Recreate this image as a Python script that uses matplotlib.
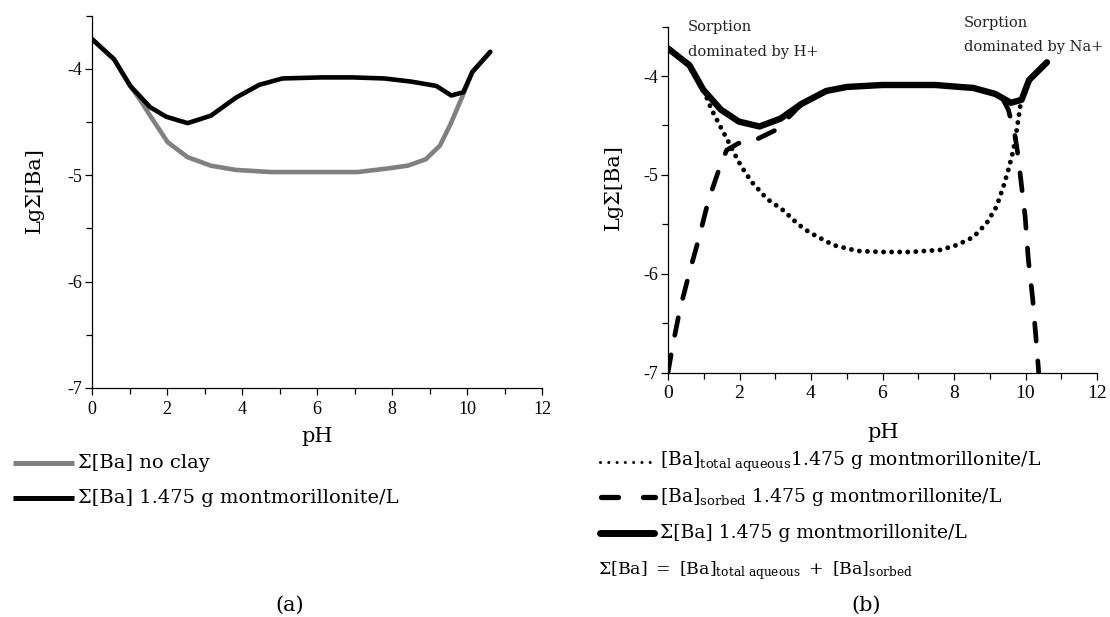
import matplotlib
matplotlib.use('Agg')
import matplotlib.pyplot as plt
from matplotlib.lines import Line2D
from matplotlib.ticker import MultipleLocator

plt.rcParams['axes.unicode_minus'] = False
plt.rcParams['mathtext.fontset'] = 'custom'
plt.rcParams['mathtext.rm'] = 'DejaVu Serif'
plt.rcParams['mathtext.it'] = 'DejaVu Serif'

# ---------------- data (a) ----------------
ph_a_clay = [0, 0.59, 1.02, 1.55, 1.98, 2.55, 3.17, 3.84, 4.46, 5.08, 6.13, 6.94,
             7.8, 8.52, 9.18, 9.58, 9.9, 10.14, 10.62]
lg_a_clay = [-3.72, -3.91, -4.16, -4.36, -4.45, -4.51, -4.44, -4.27, -4.15, -4.09,
             -4.08, -4.08, -4.09, -4.12, -4.16, -4.25, -4.22, -4.03, -3.84]

ph_a_noclay = [0, 0.59, 1.02, 1.3, 1.55, 2.02, 2.55, 3.17, 3.84, 4.79, 5.92, 7.08,
               7.8, 8.42, 8.9, 9.28, 9.56, 9.9, 10.14, 10.62]
lg_a_noclay = [-3.72, -3.91, -4.16, -4.30, -4.44, -4.69, -4.83, -4.91, -4.95, -4.97,
               -4.97, -4.97, -4.94, -4.91, -4.85, -4.72, -4.52, -4.24, -4.03, -3.84]

# ---------------- data (b) ----------------
ph_b_sum = [0, 0.6, 0.99, 1.48, 1.98, 2.56, 3.15, 3.74, 4.43, 5.0, 6.0, 7.48, 8.17,
            8.54, 9.15, 9.59, 9.89, 10.1, 10.6]
lg_b_sum = [-3.72, -3.89, -4.14, -4.34, -4.46, -4.51, -4.43, -4.28, -4.15, -4.11,
            -4.09, -4.09, -4.11, -4.12, -4.18, -4.27, -4.24, -4.04, -3.86]

ph_b_aq = [0, 0.6, 0.99, 1.22, 1.45, 1.64, 1.85, 2.06, 2.34, 2.76, 3.23, 3.64, 3.95,
           4.62, 5.3, 6.0, 6.78, 7.61, 8.08, 8.54, 8.91, 9.19, 9.38, 9.52, 9.66, 9.77,
           9.85, 9.89, 10.1, 10.6]
lg_b_aq = [-3.72, -3.89, -4.14, -4.34, -4.50, -4.63, -4.78, -4.92, -5.07, -5.24,
           -5.36, -5.50, -5.58, -5.71, -5.77, -5.78, -5.78, -5.76, -5.71, -5.63,
           -5.49, -5.32, -5.12, -4.95, -4.75, -4.51, -4.31, -4.24, -4.04, -3.86]

ph_b_sorb = [0, 0.13, 0.34, 0.62, 0.85, 1.13, 1.45, 1.64, 1.97, 2.48, 2.99, 3.34,
             3.74, 4.43, 5.0, 6.0, 7.48, 8.17, 8.54, 9.15, 9.35, 9.52, 9.71, 9.77,
             9.87, 9.99, 10.08, 10.2, 10.29, 10.37]
lg_b_sorb = [-7.0, -6.73, -6.35, -5.96, -5.66, -5.26, -4.92, -4.75, -4.68, -4.64,
             -4.55, -4.43, -4.28, -4.15, -4.11, -4.09, -4.09, -4.11, -4.12, -4.18,
             -4.22, -4.34, -4.61, -4.75, -5.05, -5.42, -5.86, -6.25, -6.64, -7.0]

x_ticks = [0, 2, 4, 6, 8, 10, 12]
y_ticks = [-7, -6, -5, -4]

label_a = ['Σ[Ba] no clay', 'Σ[Ba] 1.475 g montmorillonite/L']
label_b = [r'$\mathrm{[Ba]_{total\ aqueous}}$1.475 g montmorillonite/L',
           r'$\mathrm{[Ba]_{sorbed}}$ 1.475 g montmorillonite/L',
           'Σ[Ba] 1.475 g montmorillonite/L']
formula_b = r'$\mathrm{\Sigma[Ba]\ =\ [Ba]_{total\ aqueous}\ +\ [Ba]_{sorbed}}$'

W, H = 1110, 617
fig = plt.figure(figsize=(W / 100, H / 100), dpi=100)


def fx(x):
    return x / W


def fy(y):
    return 1 - y / H


TICKFONT = 'Liberation Serif'
TEXTFONT = 'DejaVu Serif'


def style_axes(ax, xfs, yfs):
    for s in ['top', 'right']:
        ax.spines[s].set_visible(False)
    for s in ['left', 'bottom']:
        ax.spines[s].set_linewidth(0.9)
    ax.set_xlim(0, 12)
    ax.set_ylim(-7, -3.5)
    ax.set_xticks(x_ticks)
    ax.set_yticks(y_ticks)
    ax.xaxis.set_minor_locator(MultipleLocator(1))
    ax.yaxis.set_minor_locator(MultipleLocator(0.5))
    ax.tick_params(which='major', direction='out', length=5, width=0.9)
    ax.tick_params(which='minor', direction='out', length=4, width=0.9)
    ax.tick_params(axis='x', pad=4)
    ax.tick_params(axis='y', pad=2)
    for lab in ax.get_xticklabels():
        lab.set_fontfamily(TICKFONT)
        lab.set_fontsize(xfs)
    for lab in ax.get_yticklabels():
        lab.set_fontfamily(TICKFONT)
        lab.set_fontsize(yfs)


# ---------------- panel (a) ----------------
ax1 = fig.add_axes([fx(92), fy(388), (542 - 92) / W, (388 - 15.7) / H])
l_noclay, = ax1.plot(ph_a_noclay, lg_a_noclay, color='#808080', lw=3.3,
                     solid_capstyle='round', solid_joinstyle='round')
l_clay, = ax1.plot(ph_a_clay, lg_a_clay, color='black', lw=3.3,
                   solid_capstyle='round', solid_joinstyle='round')
style_axes(ax1, 13, 13)
fig.text(fx(34), fy(190), 'LgΣ[Ba]', rotation=90, ha='center', va='center',
         fontsize=15, family=TEXTFONT)
fig.text(fx(317), fy(437), 'pH', ha='center', va='center', fontsize=15,
         family=TEXTFONT)

# legend (a)
for yy, ln, lab in [(463, l_noclay, label_a[0]), (498, l_clay, label_a[1])]:
    fig.add_artist(Line2D([fx(13), fx(74)], [fy(yy), fy(yy)], color=ln.get_color(),
                          lw=3.6, transform=fig.transFigure, solid_capstyle='butt'))
    fig.text(fx(78), fy(yy), lab, ha='left', va='center', fontsize=14,
             family=TEXTFONT)
fig.text(fx(290), fy(605), '(a)', ha='center', va='center', fontsize=15,
         family=TEXTFONT)

# ---------------- panel (b) ----------------
ax2 = fig.add_axes([fx(668), fy(372.5), (1097 - 668) / W, (372.5 - 26.7) / H])
l_sorb, = ax2.plot(ph_b_sorb, lg_b_sorb, color='black', lw=3.4,
                   linestyle=(0, (3.8, 4.2)), dash_capstyle='round')
l_aq, = ax2.plot(ph_b_aq, lg_b_aq, color='black', lw=3.5,
                 linestyle=(0, (0.01, 1.65)), dash_capstyle='round')
l_sum, = ax2.plot(ph_b_sum, lg_b_sum, color='black', lw=4.6,
                  solid_capstyle='round', solid_joinstyle='round')
style_axes(ax2, 14, 13)
fig.text(fx(613), fy(187), 'LgΣ[Ba]', rotation=90, ha='center', va='center',
         fontsize=15, family=TEXTFONT)
fig.text(fx(883), fy(433), 'pH', ha='center', va='center', fontsize=15,
         family=TEXTFONT)

fig.text(fx(688), fy(27), 'Sorption', ha='left', va='center', fontsize=10.5,
         family=TEXTFONT, color='#222222')
fig.text(fx(688), fy(52), 'dominated by H+', ha='left', va='center', fontsize=10.5,
         family=TEXTFONT, color='#222222')
fig.text(fx(964), fy(23), 'Sorption', ha='left', va='center', fontsize=10.5,
         family=TEXTFONT, color='#222222')
fig.text(fx(964), fy(47), 'dominated by Na+', ha='left', va='center', fontsize=10.5,
         family=TEXTFONT, color='#222222')

# legend (b)
fig.add_artist(Line2D([fx(600), fx(654)], [fy(462), fy(462)], color='black', lw=2.2,
                      linestyle=(0, (0.01, 2.7)), dash_capstyle='round',
                      transform=fig.transFigure))
for x0, x1 in [(601, 618), (643, 655)]:
    fig.add_artist(Line2D([fx(x0), fx(x1)], [fy(497), fy(497)], color='black',
                          lw=3.8, transform=fig.transFigure,
                          solid_capstyle='round'))
fig.add_artist(Line2D([fx(600), fx(654)], [fy(533), fy(533)], color='black', lw=5.0,
                      transform=fig.transFigure, solid_capstyle='round'))
for yy, lab in [(462, label_b[0]), (497, label_b[1]), (533, label_b[2])]:
    fig.text(fx(660), fy(yy), lab, ha='left', va='center', fontsize=13.5,
             family=TEXTFONT)
fig.text(fx(598), fy(571), formula_b, ha='left', va='center', fontsize=12.5,
         family=TEXTFONT)
fig.text(fx(866), fy(605), '(b)', ha='center', va='center', fontsize=15,
         family=TEXTFONT)

fig.savefig('out.png', dpi=100)
